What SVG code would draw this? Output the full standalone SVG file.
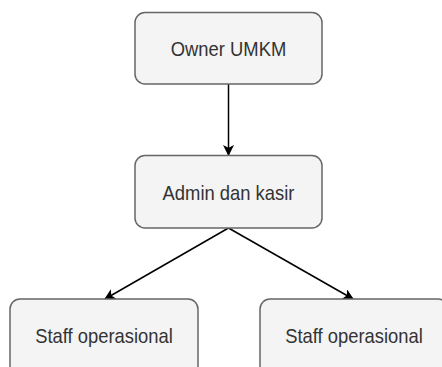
<svg xmlns="http://www.w3.org/2000/svg" width="442" height="367" viewBox="0 0 442 367">
<style>
.box{fill:#f4f4f4;stroke:#666;stroke-width:1.5}
.lbl{font-family:"Liberation Sans",Arial,sans-serif;font-size:18.4px;fill:#333;text-anchor:middle}
.edge{stroke:#000;stroke-width:1.5;fill:none}
</style>
<defs>
<marker id="ah" viewBox="0 0 10 10" refX="9" refY="5" markerWidth="11" markerHeight="11" markerUnits="userSpaceOnUse" orient="auto">
<path d="M0,0 L10,5 L0,10 L2.5,5 Z" fill="#000"/>
</marker>
</defs>
<rect width="442" height="367" fill="#fff"/>
<g id="connectors">
<path class="edge" d="M228.5,84 L228.5,155" marker-end="url(#ah)"/>
<path class="edge" d="M228.5,228 L105,299" marker-end="url(#ah)"/>
<path class="edge" d="M228.5,228 L353,299" marker-end="url(#ah)"/>
</g>
<g id="n1"><rect class="box" x="135" y="12.5" width="187" height="71.5" rx="10"/><text class="lbl" transform="translate(228.5,56) scale(1,1.13)">Owner UMKM</text></g>
<g id="n2"><rect class="box" x="135" y="155.5" width="187" height="72.5" rx="10"/><text class="lbl" transform="translate(228.5,200) scale(1,1.13)">Admin dan kasir</text></g>
<g id="n3"><rect class="box" x="10" y="299" width="188" height="80" rx="10"/><text class="lbl" transform="translate(104,343.3) scale(1,1.13)">Staff operasional</text></g>
<g id="n4"><rect class="box" x="260" y="299" width="188" height="80" rx="10"/><text class="lbl" transform="translate(354,343.3) scale(1,1.13)">Staff operasional</text></g>
</svg>
